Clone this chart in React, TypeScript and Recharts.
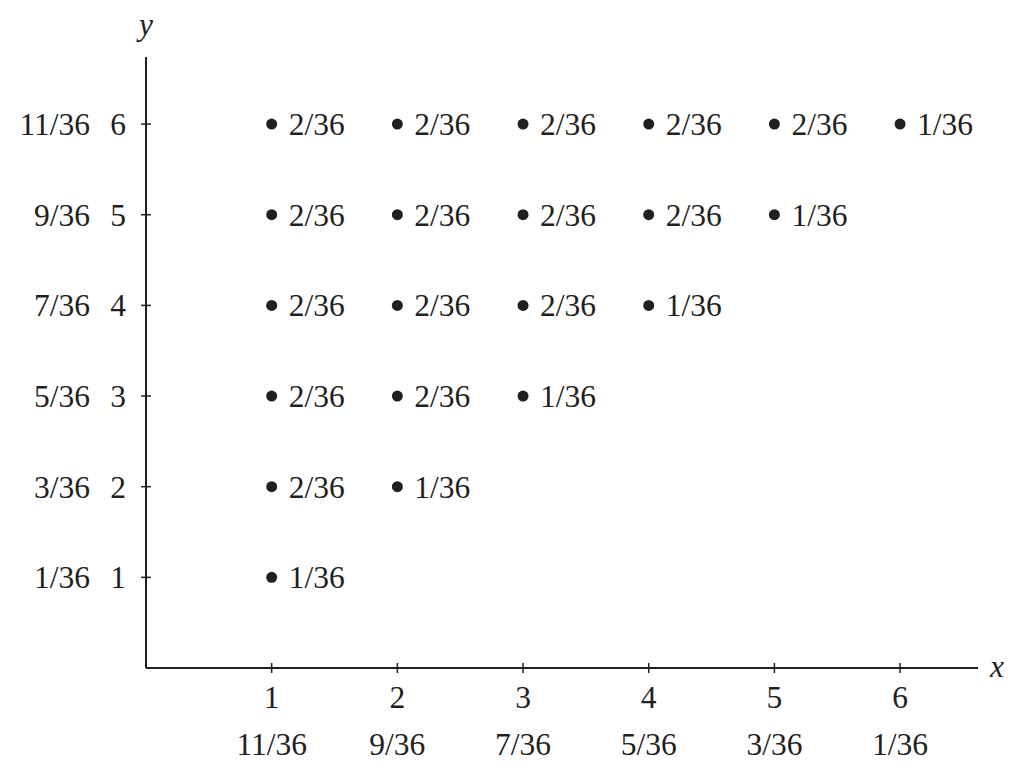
import React from 'react';
import { ScatterChart, Scatter, XAxis, YAxis, Label } from 'recharts';

const xTicks = [1, 2, 3, 4, 5, 6];
const xTickProbs = ['11/36', '9/36', '7/36', '5/36', '3/36', '1/36'];
const yTicks = [1, 2, 3, 4, 5, 6];
const yTickProbs = ['1/36', '3/36', '5/36', '7/36', '9/36', '11/36'];

const pointX = [1, 1, 2, 1, 2, 3, 1, 2, 3, 4, 1, 2, 3, 4, 5, 1, 2, 3, 4, 5, 6];
const pointY = [1, 2, 2, 3, 3, 3, 4, 4, 4, 4, 5, 5, 5, 5, 5, 6, 6, 6, 6, 6, 6];
const pointLabels = [
  '1/36',
  '2/36', '1/36',
  '2/36', '2/36', '1/36',
  '2/36', '2/36', '2/36', '1/36',
  '2/36', '2/36', '2/36', '2/36', '1/36',
  '2/36', '2/36', '2/36', '2/36', '2/36', '1/36',
];

const data = pointX.map((x, i) => ({ x, y: pointY[i], label: pointLabels[i] }));

const INK = '#231f20';
const FONT = '"Liberation Serif", "DejaVu Serif", serif';
const FS = 31.5;

const XTick = (props: any) => {
  const { x, y, payload } = props;
  const i = xTicks.indexOf(payload.value);
  return (
    <g>
      <line x1={x} x2={x} y1={y - 5} y2={y + 5} stroke={INK} strokeWidth={1.5} />
      <text x={x} y={y + 40} textAnchor="middle" fontFamily={FONT} fontSize={FS} fill={INK}>
        {payload.value}
      </text>
      <text x={x} y={y + 87} textAnchor="middle" fontFamily={FONT} fontSize={FS} fill={INK}>
        {xTickProbs[i]}
      </text>
    </g>
  );
};

const YTick = (props: any) => {
  const { x, y, payload } = props;
  const i = yTicks.indexOf(payload.value);
  return (
    <g>
      <line x1={x - 5} x2={x + 5} y1={y} y2={y} stroke={INK} strokeWidth={1.5} />
      <text x={x - 20} y={y + 11} textAnchor="end" fontFamily={FONT} fontSize={FS} fill={INK}>
        {payload.value}
      </text>
      <text x={x - 56} y={y + 11} textAnchor="end" fontFamily={FONT} fontSize={FS} fill={INK}>
        {yTickProbs[i]}
      </text>
    </g>
  );
};

const DotShape = (props: any) => {
  const { cx, cy, payload } = props;
  return (
    <g>
      <circle cx={cx} cy={cy} r={5.5} fill={INK} />
      <text x={cx + 17} y={cy + 11} fontFamily={FONT} fontSize={FS} fill={INK}>
        {payload.label}
      </text>
    </g>
  );
};

export default function App() {
  return (
    <div style={{ position: 'absolute', left: 0, top: 0, background: '#fff' }}>
      <ScatterChart width={1031} height={773} margin={{ top: 57, right: 53, bottom: 0, left: 0 }}>
        <XAxis
          type="number"
          dataKey="x"
          domain={[0, 6.62]}
          ticks={xTicks}
          allowDataOverflow
          height={105}
          tickSize={0}
          tickMargin={0}
          tickLine={false}
          axisLine={{ stroke: INK, strokeWidth: 2 }}
          tick={<XTick />}
        >
          <Label
            content={(p: any) => {
              const vb = p.viewBox;
              return (
                <text x={vb.x + vb.width + 12} y={vb.y + 9} fontFamily={FONT} fontStyle="italic" fontSize={FS} fill={INK}>
                  x
                </text>
              );
            }}
          />
        </XAxis>
        <YAxis
          type="number"
          dataKey="y"
          domain={[0, 6.74]}
          ticks={yTicks}
          allowDataOverflow
          width={146}
          tickSize={0}
          tickMargin={0}
          tickLine={false}
          axisLine={{ stroke: INK, strokeWidth: 2 }}
          tick={<YTick />}
        >
          <Label
            content={(p: any) => {
              const vb = p.viewBox;
              return (
                <text x={vb.x + vb.width} y={vb.y - 22} textAnchor="middle" fontFamily={FONT} fontStyle="italic" fontSize={FS} fill={INK}>
                  y
                </text>
              );
            }}
          />
        </YAxis>
        <Scatter data={data} isAnimationActive={false} shape={<DotShape />} />
      </ScatterChart>
    </div>
  );
}
